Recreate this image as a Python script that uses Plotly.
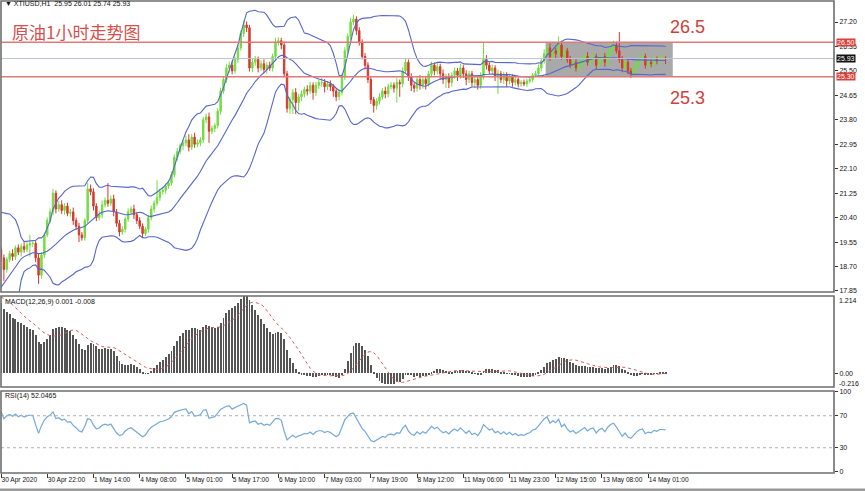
import numpy as np
import pandas as pd
import plotly.graph_objects as go

# ---------------- data ----------------
# hourly closes before the first visible bar (feed the indicators only)
history_close = [12.3, 12.2, 12.4, 12.5, 12.3, 12.6, 12.8, 12.7, 13.0, 13.2,
                 13.1, 13.4, 13.6, 13.5, 13.8, 14.0, 13.9, 14.2, 14.4, 14.3,
                 14.6, 14.8, 14.7, 15.0, 15.2, 15.1, 15.4, 15.6, 15.5, 15.8,
                 16.0, 15.9, 16.1, 16.3, 16.2, 16.4, 16.3, 16.6, 17.8, 18.5,
                 18.7, 18.6, 18.9, 19.1, 19.0, 19.2, 19.3, 19.1, 19.2, 19.3]

close = [19.0, 18.6, 18.95, 19.15, 19.05, 19.35, 19.2, 19.4, 19.3, 19.45,
         19.5, 19.5, 19.0, 18.4, 19.1, 19.8, 20.3, 20.6, 21.25, 20.7,
         20.85, 20.65, 20.8, 20.55, 20.6, 20.3, 20.1, 19.8, 19.7, 20.3,
         21.4, 21.3, 20.8, 20.4, 20.5, 20.85, 21.0, 20.9, 21.05, 20.6,
         20.2, 19.9, 20.0, 20.35, 20.6, 20.7, 20.5, 20.3, 20.1, 19.85,
         20.0, 20.4, 20.7, 20.9, 21.1, 21.3, 21.35, 21.5, 21.6, 21.9,
         22.5, 22.7, 22.9, 23.0, 23.1, 22.85, 23.2, 22.95, 23.0, 23.1,
         23.8, 23.9, 23.4, 23.5, 23.6, 24.1, 24.8, 25.2, 25.6, 25.7,
         25.5, 25.9, 26.3, 26.8, 27.1, 27.0, 25.6, 25.8, 25.9, 25.6,
         25.75, 25.55, 25.7, 25.6, 26.0, 26.5, 26.55, 26.4, 25.4, 24.2,
         24.5, 24.75, 24.4, 24.6, 24.7, 24.85, 24.8, 25.0, 24.75, 25.0,
         25.1, 25.1, 24.95, 25.05, 24.95, 24.8, 24.6, 24.75, 25.3, 26.2,
         26.7, 27.2, 27.3, 26.9, 26.5, 26.0, 25.7, 25.2, 24.5, 24.3,
         24.45, 24.6, 24.8, 24.7, 24.95, 25.0, 24.9, 25.1, 25.05, 25.5,
         25.8, 25.3, 25.0, 24.9, 25.2, 25.0, 25.2, 25.05, 25.4, 25.7,
         25.5, 25.65, 25.4, 25.2, 25.3, 25.1, 25.35, 25.5, 25.35, 25.6,
         25.4, 25.2, 25.4, 25.1, 25.2, 25.0, 25.3, 25.9, 25.7, 25.5,
         25.6, 25.3, 25.4, 25.2, 25.35, 25.15, 25.3, 25.1, 25.2, 25.05,
         25.1, 25.05, 25.15, 25.2, 25.35, 25.4, 25.6, 25.85, 26.1, 26.3,
         26.0, 26.2, 26.1, 26.4, 26.0, 26.2, 25.9, 25.7, 25.8, 25.6,
         25.75, 25.9, 26.0, 25.8, 25.95, 26.0, 25.7, 25.9, 26.0, 25.8,
         26.1, 26.3, 26.4, 26.2, 25.9, 25.6, 25.8, 25.5, 25.4, 25.6,
         25.8, 25.95, 26.0, 25.7, 25.8, 25.75, 25.9, 25.85, 25.95, 25.95,
         25.93]

upper_wick = [0.10, 0.12, 0.08, 0.10, 0.15, 0.08, 0.12, 0.10, 0.15, 0.10,
              0.30, 0.10, 0.12, 0.15, 0.10, 0.08, 0.10, 0.12, 0.15, 0.10,
              0.12, 0.15, 0.10, 0.12, 0.10, 0.15, 0.10, 0.12, 0.10, 0.08,
              0.20, 0.15, 0.12, 0.10, 0.12, 0.15, 0.10, 0.60, 0.12, 0.15,
              0.10, 0.12, 0.10, 0.08, 0.12, 0.10, 0.15, 0.10, 0.12, 0.10,
              0.08, 0.10, 0.12, 0.10, 0.60, 0.10, 0.12, 0.08, 0.10, 0.10,
              0.10, 0.12, 0.08, 0.10, 0.15, 0.20, 0.10, 0.15, 0.12, 0.10,
              0.10, 0.12, 0.15, 0.10, 0.08, 0.10, 0.12, 0.10, 0.15, 0.12,
              0.15, 0.10, 0.12, 0.10, 0.15, 0.12, 0.10, 0.15, 0.12, 0.10,
              0.12, 0.15, 0.10, 0.12, 0.10, 0.15, 0.12, 0.10, 0.12, 0.10,
              0.10, 0.12, 0.15, 0.10, 0.12, 0.10, 0.15, 0.12, 0.10, 0.12,
              0.10, 0.15, 0.12, 0.10, 0.12, 0.10, 0.10, 0.12, 0.10, 0.12,
              0.10, 0.15, 0.15, 0.10, 0.12, 0.10, 0.12, 0.10, 0.12, 0.10,
              0.10, 0.12, 0.10, 0.15, 0.10, 0.12, 0.10, 0.15, 0.10, 0.12,
              0.15, 0.10, 0.12, 0.10, 0.12, 0.15, 0.10, 0.12, 0.10, 0.12,
              0.10, 0.12, 0.10, 0.15, 0.10, 0.12, 0.10, 0.12, 0.10, 0.15,
              0.10, 0.12, 0.10, 0.10, 0.12, 0.10, 0.15, 0.60, 0.15, 0.10,
              0.12, 0.10, 0.15, 0.10, 0.12, 0.10, 0.10, 0.08, 0.10, 0.08,
              0.08, 0.10, 0.08, 0.10, 0.08, 0.10, 0.12, 0.10, 0.15, 0.12,
              0.15, 0.12, 0.10, 0.30, 0.15, 0.12, 0.10, 0.12, 0.10, 0.12,
              0.10, 0.12, 0.10, 0.15, 0.10, 0.12, 0.10, 0.12, 0.10, 0.12,
              0.10, 0.12, 0.15, 0.12, 0.65, 0.12, 0.10, 0.12, 0.10, 0.10,
              0.12, 0.10, 0.12, 0.10, 0.12, 0.10, 0.12, 0.10, 0.10, 0.08,
              0.06]

lower_wick = [0.15, 0.40, 0.12, 0.10, 0.15, 0.12, 0.10, 0.15, 0.12, 0.10,
              0.40, 0.12, 0.15, 0.30, 0.12, 0.10, 0.08, 0.10, 0.12, 0.15,
              0.10, 0.12, 0.15, 0.10, 0.12, 0.15, 0.12, 0.25, 0.10, 0.10,
              0.10, 0.12, 0.15, 0.12, 0.10, 0.12, 0.10, 0.12, 0.10, 0.15,
              0.12, 0.15, 0.10, 0.12, 0.10, 0.12, 0.15, 0.12, 0.10, 0.15,
              0.10, 0.12, 0.10, 0.12, 0.10, 0.12, 0.10, 0.12, 0.10, 0.08,
              0.10, 0.12, 0.10, 0.15, 0.12, 0.15, 0.10, 0.12, 0.10, 0.12,
              0.10, 0.12, 0.40, 0.10, 0.12, 0.10, 0.12, 0.10, 0.12, 0.15,
              0.12, 0.10, 0.12, 0.10, 0.12, 0.15, 0.12, 0.15, 0.12, 0.15,
              0.10, 0.12, 0.15, 0.10, 0.12, 0.10, 0.12, 0.15, 0.12, 0.15,
              0.20, 0.50, 0.40, 0.30, 0.15, 0.12, 0.15, 0.10, 0.25, 0.12,
              0.12, 0.15, 0.20, 0.12, 0.15, 0.20, 0.15, 0.12, 0.10, 0.12,
              0.10, 0.12, 0.10, 0.15, 0.12, 0.10, 0.15, 0.12, 0.15, 0.25,
              0.15, 0.12, 0.10, 0.15, 0.12, 0.10, 0.15, 0.50, 0.45, 0.12,
              0.10, 0.15, 0.20, 0.15, 0.12, 0.15, 0.12, 0.20, 0.10, 0.12,
              0.15, 0.12, 0.20, 0.15, 0.30, 0.20, 0.15, 0.12, 0.20, 0.12,
              0.15, 0.20, 0.12, 0.15, 0.20, 0.15, 0.12, 0.10, 0.15, 0.12,
              0.12, 0.15, 0.60, 0.12, 0.15, 0.20, 0.12, 0.15, 0.10, 0.12,
              0.10, 0.08, 0.10, 0.08, 0.10, 0.08, 0.10, 0.12, 0.10, 0.12,
              0.15, 0.12, 0.15, 0.10, 0.12, 0.15, 0.12, 0.10, 0.15, 0.12,
              0.10, 0.12, 0.15, 0.12, 0.10, 0.12, 0.15, 0.10, 0.12, 0.15,
              0.12, 0.10, 0.12, 0.10, 0.12, 0.15, 0.12, 0.12, 0.15, 0.10,
              0.10, 0.12, 0.10, 0.12, 0.10, 0.12, 0.10, 0.12, 0.10, 0.12,
              0.19]

tick_labels = ["30 Apr 2020", "30 Apr 22:00", "1 May 14:00", "4 May 08:00",
               "5 May 01:00", "5 May 17:00", "6 May 10:00", "7 May 03:00",
               "7 May 19:00", "8 May 12:00", "11 May 06:00", "11 May 23:00",
               "12 May 15:00", "13 May 08:00", "14 May 01:00"]
tick_bars = [0, 16, 32, 48, 64, 80, 96, 112, 128, 144, 160, 176, 192, 208, 224]

resistance = 26.50
support = 25.30
bid = 25.93
box_start_bar, box_end_bar = 188.5, 232.5

price_ticks = [17.85, 18.70, 19.55, 20.40, 21.25, 22.10, 22.95, 23.80,
               24.65, 25.50, 26.35, 27.20]

# ---------------- derived series ----------------
n_hist = len(history_close)
allc = pd.Series(history_close + close, dtype=float)
opens = [history_close[-1]] + close[:-1]
highs = [max(o, c) + w for o, c, w in zip(opens, close, upper_wick)]
lows = [min(o, c) - w for o, c, w in zip(opens, close, lower_wick)]
idx = list(range(len(close)))

ma = allc.rolling(20).mean()
sd = allc.rolling(20).std(ddof=0)
bb_up = (ma + 2 * sd).iloc[n_hist:].tolist()
bb_mid = ma.iloc[n_hist:].tolist()
bb_lo = (ma - 2 * sd).iloc[n_hist:].tolist()

ema12 = allc.ewm(span=12, adjust=False).mean()
ema26 = allc.ewm(span=26, adjust=False).mean()
macd = ema12 - ema26
sig = macd.rolling(9).mean()
macd_v = macd.iloc[n_hist:].tolist()
sig_v = sig.iloc[n_hist:].tolist()

d = allc.diff()
gain = d.clip(lower=0).fillna(0)
loss = (-d.clip(upper=0)).fillna(0)
ag = gain.ewm(alpha=1 / 14, adjust=False).mean()
al = loss.ewm(alpha=1 / 14, adjust=False).mean()
rsi = (100 - 100 / (1 + ag / al)).iloc[n_hist:].tolist()

# ---------------- figure ----------------
W, H = 865, 491
mt, mb, ml, mr = 1, 18, 1, 31
ph = H - mt - mb


def pyf(pix):  # pixel row -> paper fraction
    return (H - mb - pix) / ph


GREEN = "#72dd40"
RED = "#d8382c"
BLUE = "#5566cc"
FONT = "Liberation Sans"

fig = go.Figure()

fig.add_trace(go.Candlestick(
    x=idx, open=opens, high=highs, low=lows, close=close,
    increasing=dict(line=dict(color=GREEN, width=1), fillcolor=GREEN),
    decreasing=dict(line=dict(color=RED, width=1), fillcolor=RED),
    whiskerwidth=0, xaxis="x", yaxis="y", showlegend=False, hoverinfo="skip"))

for band in (bb_up, bb_mid, bb_lo):
    fig.add_trace(go.Scatter(x=idx, y=band, mode="lines",
                             line=dict(color=BLUE, width=1.1),
                             xaxis="x", yaxis="y", showlegend=False,
                             hoverinfo="skip"))

fig.add_trace(go.Bar(x=idx, y=macd_v, width=0.32, marker_color="#555555",
                     marker_line_width=0, xaxis="x", yaxis="y2",
                     showlegend=False, hoverinfo="skip"))
fig.add_trace(go.Scatter(x=idx, y=sig_v, mode="lines",
                         line=dict(color="#d65a5a", width=1, dash="dot"),
                         xaxis="x", yaxis="y2", showlegend=False,
                         hoverinfo="skip"))
fig.add_trace(go.Scatter(x=idx, y=rsi, mode="lines",
                         line=dict(color="#74a9dc", width=1.2),
                         xaxis="x", yaxis="y3", showlegend=False,
                         hoverinfo="skip"))

axis_font = dict(family=FONT, size=7, color="#111")
xaxis_font = dict(family=FONT, size=6.6, color="#111")
common_y = dict(side="right", anchor="x", showgrid=False, zeroline=False,
                ticks="outside", ticklen=3, tickcolor="#333",
                tickfont=axis_font, showline=False, automargin=False)

main_dom = [pyf(292), 1.0]
macd_dom = [pyf(387), pyf(296)]
rsi_dom = [0.0, pyf(391)]

fig.update_layout(
    width=W, height=H, autosize=False,
    margin=dict(l=ml, r=mr, t=mt, b=mb),
    paper_bgcolor="white", plot_bgcolor="white",
    bargap=0,
    xaxis=dict(domain=[0, 1], anchor="y3", range=[0.0, 288.3],
               rangeslider=dict(visible=False), showgrid=False,
               zeroline=False, tickmode="array", tickvals=tick_bars,
               ticktext=tick_labels, ticks="outside", ticklen=4,
               tickcolor="#333", tickfont=xaxis_font, tickangle=0,
               ticklabelposition="outside right", showline=False,
               automargin=False),
    yaxis=dict(domain=main_dom, range=[17.815, 27.93], tickmode="array",
               tickvals=price_ticks,
               ticktext=[f"{v:.2f}" for v in price_ticks], **common_y),
    yaxis2=dict(domain=macd_dom, range=[-0.216, 1.214], tickmode="array",
                tickvals=[0.0], ticktext=["0.00"], **common_y),
    yaxis3=dict(domain=rsi_dom, range=[-1.6, 100.9], tickmode="array",
                tickvals=[0, 30, 70, 100], ticktext=["0", "30", "70", "100"],
                **common_y),
)

shapes = []
# gray consolidation box
shapes.append(dict(type="rect", xref="x", yref="y", x0=box_start_bar,
                   x1=box_end_bar, y0=support, y1=resistance,
                   fillcolor="#a9a9a9", line=dict(width=0), layer="below"))
# bid line
shapes.append(dict(type="line", xref="x domain", yref="y", x0=0, x1=1,
                   y0=bid, y1=bid, line=dict(color="#bcc3d3", width=1)))
# support / resistance lines
for lvl in (resistance, support):
    shapes.append(dict(type="line", xref="x domain", yref="y", x0=0, x1=1,
                       y0=lvl, y1=lvl, line=dict(color="#e07a7a", width=1.5)))
# RSI levels
for lvl in (30, 70):
    shapes.append(dict(type="line", xref="x domain", yref="y3", x0=0, x1=1,
                       y0=lvl, y1=lvl,
                       line=dict(color="#b0b0b0", width=1, dash="dot")))
# panel frames
for dom in (main_dom, macd_dom, rsi_dom):
    shapes.append(dict(type="rect", xref="paper", yref="paper", x0=0, x1=1,
                       y0=dom[0], y1=dom[1],
                       line=dict(color="#6e6e6e", width=1.6),
                       fillcolor="rgba(0,0,0,0)"))
# bottom tab strip
shapes.append(dict(type="rect", xref="paper", yref="paper", x0=-0.01,
                   x1=1.05, y0=pyf(491), y1=pyf(488.5),
                   fillcolor="#9a9a9a", line=dict(width=0)))
fig.update_layout(shapes=shapes)

ann = []
small = dict(family=FONT, size=7, color="#111")
ann.append(dict(text="▼ XTIUSD,H1  25.95 26.01 25.74 25.93", xref="paper",
                yref="paper", x=0.003, y=pyf(4), xanchor="left",
                yanchor="middle", showarrow=False,
                font=dict(family=FONT, size=7, color="#111")))
ann.append(dict(text="原油1小时走势图", xref="paper", yref="paper", x=0.011,
                y=pyf(31), xanchor="left", yanchor="middle", showarrow=False,
                font=dict(family="Noto Sans CJK SC", size=17,
                          color="#d5504c")))
ann.append(dict(text="26.5", xref="x", yref="y", x=231, y=resistance,
                yshift=15, xanchor="left", yanchor="middle",
                showarrow=False,
                font=dict(family=FONT, size=18, color="#d0403c")))
ann.append(dict(text="25.3", xref="x", yref="y", x=231, y=support,
                yshift=-21, xanchor="left", yanchor="middle",
                showarrow=False,
                font=dict(family=FONT, size=18, color="#d0403c")))
for lvl, bg in ((resistance, "#d9403a"), (bid, "#111111"),
                (support, "#d9403a")):
    ann.append(dict(text=f"{lvl:.2f}", xref="paper", yref="y", x=1,
                    xshift=2, y=lvl, xanchor="left", yanchor="middle",
                    showarrow=False, bgcolor=bg, borderpad=0,
                    font=dict(family=FONT, size=7, color="white")))
ann.append(dict(text="MACD(12,26,9) 0.001 -0.008", xref="paper",
                yref="paper", x=0.003, y=pyf(302), xanchor="left",
                yanchor="middle", showarrow=False, font=small))
ann.append(dict(text="RSI(14) 52.0465", xref="paper", yref="paper",
                x=0.003, y=pyf(396), xanchor="left", yanchor="middle",
                showarrow=False, font=small))
ann.append(dict(text="1.214", xref="paper", yref="y2", x=1, xshift=3,
                y=1.214, yshift=-4, xanchor="left", yanchor="middle",
                showarrow=False, font=small))
ann.append(dict(text="-0.216", xref="paper", yref="y2", x=1, xshift=3,
                y=-0.216, yshift=4, xanchor="left", yanchor="middle",
                showarrow=False, font=small))
fig.update_layout(annotations=ann)

fig.write_html("out.html",
               config={"displayModeBar": False},
               post_script="document.body.style.margin='0px';"
                           "document.body.style.padding='0px';")
